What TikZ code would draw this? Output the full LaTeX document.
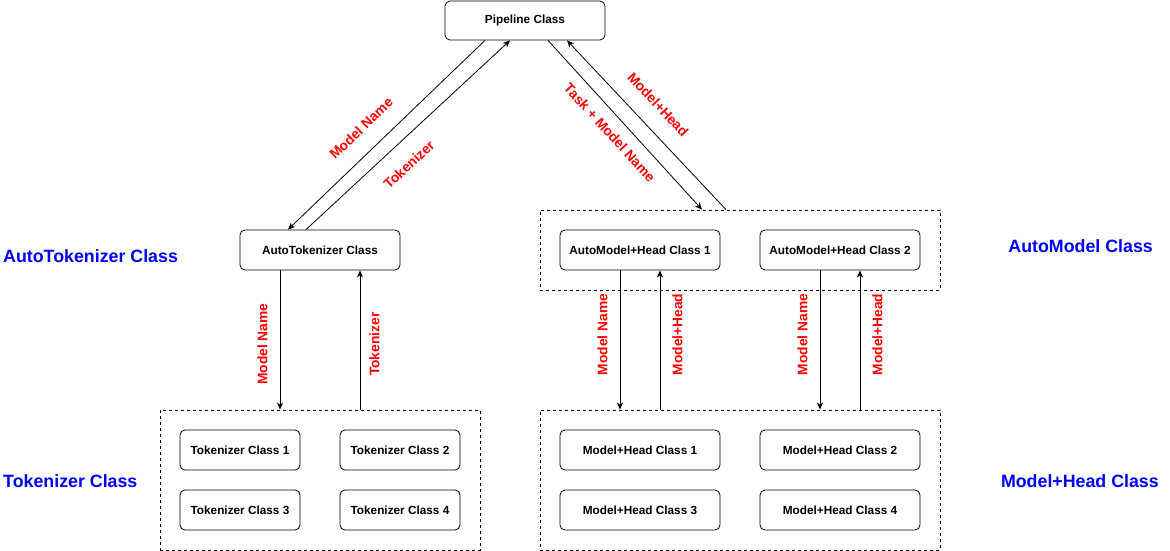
\documentclass[tikz,border=0pt]{standalone}
\usepackage{fontspec}
\setmainfont{Liberation Sans}
\usetikzlibrary{arrows.meta}

\begin{document}
\begin{tikzpicture}[x=1pt, y=-1pt,
		box/.style={draw, line width=0.8pt, rounded corners=5pt, minimum height=40pt,
			inner sep=0pt, font=\fontsize{11.8}{13}\selectfont\bfseries},
		grp/.style={draw, line width=0.8pt, dash pattern=on 3pt off 3pt, inner sep=0pt},
		arr/.style={line width=0.8pt, -{Stealth[length=7pt, width=6pt, inset=2pt]}},
		lbl/.style={text=red, font=\fontsize{13.8}{15}\selectfont\bfseries},
		side/.style={text=blue, font=\fontsize{17.8}{20}\selectfont\bfseries, inner sep=0pt}]
		\useasboundingbox (0, 0) rectangle (1170, 551);

		\node[box, minimum width=160pt, minimum height=39pt] (pipe) at (525, 20.5) {Pipeline Class};
		\node[box, minimum width=160pt] (atok) at (320, 250) {AutoTokenizer Class};

		\node[grp, minimum width=400pt, minimum height=80pt] (amgrp) at (740, 250) {};
		\node[box, minimum width=160pt] (am1) at (640, 250) {AutoModel+Head Class 1};
		\node[box, minimum width=160pt] (am2) at (840, 250) {AutoModel+Head Class 2};

		\node[grp, minimum width=320pt, minimum height=140pt] (tokgrp) at (320, 480) {};
		\node[box, minimum width=120pt] (tok1) at (240, 450) {Tokenizer Class 1};
		\node[box, minimum width=120pt] (tok2) at (400, 450) {Tokenizer Class 2};
		\node[box, minimum width=120pt] (tok3) at (240, 510) {Tokenizer Class 3};
		\node[box, minimum width=120pt] (tok4) at (400, 510) {Tokenizer Class 4};

		\node[grp, minimum width=400pt, minimum height=140pt] (mhgrp) at (740, 480) {};
		\node[box, minimum width=160pt] (mh1) at (640, 450) {Model+Head Class 1};
		\node[box, minimum width=160pt] (mh2) at (840, 450) {Model+Head Class 2};
		\node[box, minimum width=160pt] (mh3) at (640, 510) {Model+Head Class 3};
		\node[box, minimum width=160pt] (mh4) at (840, 510) {Model+Head Class 4};

		\node[side, anchor=west] (sideatok) at (3, 256) {AutoTokenizer Class};
		\node[side, anchor=west] (sidetok) at (3, 481) {Tokenizer Class};
		\node[side, anchor=east] (sideam) at (1153, 246) {AutoModel Class};
		\node[side, anchor=east] (sidemh) at (1159, 481) {Model+Head Class};

		\draw[arr] ([xshift=-40pt]pipe.south) -- ([xshift=-32pt]atok.north)
			node[lbl, pos=0.55, sloped, above=17pt, inner sep=0pt] {Model Name};
		\draw[arr] ([xshift=-14pt]atok.north) -- ([xshift=-15pt]pipe.south)
			node[lbl, pos=0.43, sloped, below=17pt, inner sep=0pt] {Tokenizer};
		\draw[arr] ([xshift=23pt]pipe.south) -- ([xshift=-38pt]amgrp.north)
			node[lbl, pos=0.48, sloped, below=11pt, inner sep=0pt] {Task + Model Name};
		\draw[arr] ([xshift=-14pt]amgrp.north) -- ([xshift=42pt]pipe.south)
			node[lbl, pos=0.53, sloped, above=17pt, inner sep=0pt] {Model+Head};

		\draw[arr] ([xshift=-40pt]atok.south) -- ([xshift=-40pt]tokgrp.north)
			node[lbl, pos=0.53, rotate=90, anchor=south, inner sep=12pt] {Model Name};
		\draw[arr] ([xshift=40pt]tokgrp.north) -- ([xshift=40pt]atok.south)
			node[lbl, pos=0.47, rotate=90, anchor=north, inner sep=9pt] {Tokenizer};

		\draw[arr] ([xshift=-20pt]am1.south) -- ([xshift=-120pt]mhgrp.north)
			node[lbl, pos=0.46, rotate=90, anchor=south, inner sep=12pt] {Model Name};
		\draw[arr] ([xshift=-80pt]mhgrp.north) -- ([xshift=20pt]am1.south)
			node[lbl, pos=0.54, rotate=90, anchor=north, inner sep=12pt] {Model+Head};
		\draw[arr] ([xshift=-20pt]am2.south) -- ([xshift=80pt]mhgrp.north)
			node[lbl, pos=0.46, rotate=90, anchor=south, inner sep=12pt] {Model Name};
		\draw[arr] ([xshift=120pt]mhgrp.north) -- ([xshift=20pt]am2.south)
			node[lbl, pos=0.54, rotate=90, anchor=north, inner sep=12pt] {Model+Head};
	\end{tikzpicture}
\end{document}
